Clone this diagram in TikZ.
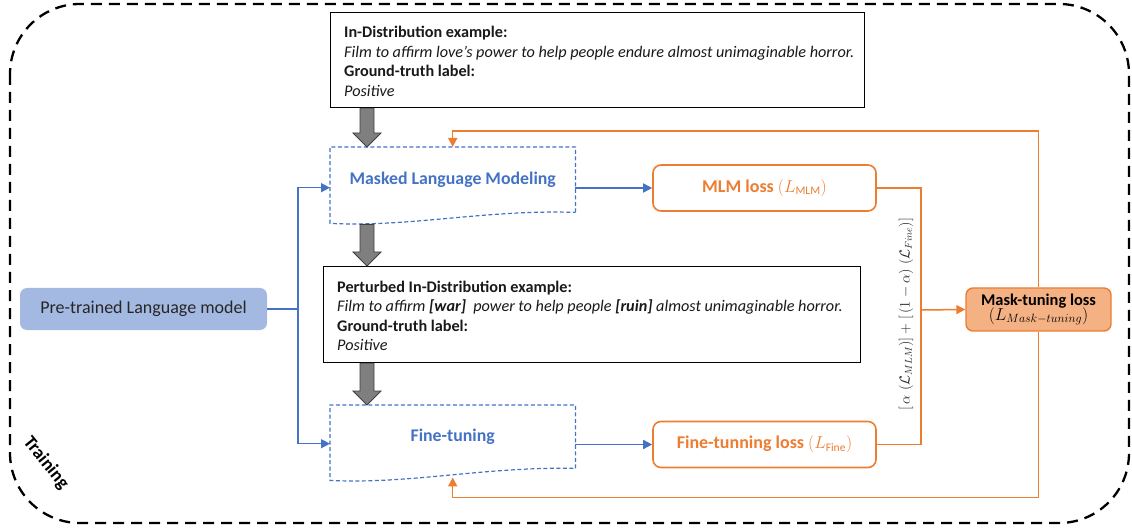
\documentclass[tikz,border=0pt]{standalone}
\usepackage{fontspec}
\setmainfont{Carlito}
\usetikzlibrary{calc,arrows.meta}
\definecolor{oblue}{HTML}{4472C4}
\definecolor{oorange}{HTML}{ED7D31}
\definecolor{lblue}{HTML}{A4B9E1}
\definecolor{lorange}{HTML}{F4B183}
\definecolor{gfillc}{HTML}{7F7F7F}
\definecolor{gdrawc}{HTML}{3F3F3F}
\newcommand\blockarrow[2]{%
  \filldraw[gblock] ($(#1)+(-7,0)$) -- ($(#2)+(-7,-14)$) -- ($(#2)+(-14,-14)$) -- (#2)
    -- ($(#2)+(14,-14)$) -- ($(#2)+(7,-14)$) -- ($(#1)+(7,0)$) -- cycle;}
\begin{document}
\begin{tikzpicture}[x=1pt,y=-1pt,
  exbox/.style={draw=black,line width=1.3,fill=white,inner sep=0,anchor=north west},
  extext/.style={anchor=west,align=left,inner sep=0,font=\fontsize{16.2}{19.5}\selectfont,text=black!90},
  docnode/.style={inner sep=0,anchor=north west,text=oblue,font=\fontsize{17.8}{20}\selectfont\bfseries},
  docline/.style={draw=oblue,line width=1.2,dash pattern=on 4 off 2.5},
  lossbox/.style={draw=oorange,line width=1.6,rounded corners=8,fill=white,text=oorange,
    minimum width=223,minimum height=46,font=\fontsize{18}{21}\selectfont},
  bline/.style={draw=oblue,line width=1.5},
  barrow/.style={bline,-{Triangle[length=9pt,width=9pt]}},
  oline/.style={draw=oorange,line width=1.5},
  oarrow/.style={oline,-{Triangle[length=9pt,width=9pt]}},
  gblock/.style={fill=gfillc,draw=gdrawc,line width=0.8},
]
\useasboundingbox (0,0) rectangle (1132,529);
% outer training frame
\draw[black,line width=2.3,dash pattern=on 11 off 7,rounded corners=70] (10,4) rectangle (1129,523);
\node[rotate=-51,font=\fontsize{18.5}{20}\selectfont\bfseries] (train) at (46,463) {Training};

% example boxes
\node[exbox,minimum width=534,minimum height=95] (ex1) at (330,12) {};
\node[extext] (ex1t) at ($(ex1.west)+(14,1)$) {\textbf{In-Distribution example:}\\
  \textit{Film to affirm love’s power to help people endure almost unimaginable horror.}\\
  \textbf{Ground-truth label:}\\
  \textit{Positive}};
\node[exbox,minimum width=537,minimum height=96] (ex2) at (323,266) {};
\node[extext] (ex2t) at ($(ex2.west)+(14,1)$) {\textbf{Perturbed In-Distribution example:}\\
  \textit{Film to affirm \textbf{[war]}\ \ power to help people \textbf{[ruin]} almost unimaginable horror.}\\
  \textbf{Ground-truth label:}\\
  \textit{Positive}};

% document shapes
\node[docnode,minimum width=245,minimum height=65] (mlm) at (330,147) {Masked Language Modeling};
\draw[docline] (mlm.south east) -- (mlm.north east) -- (mlm.north west) -- ($(mlm.south west)+(0,11)$)
  .. controls ($(mlm.south west)+(80,15)$) and ($(mlm.south east)+(-90,-3)$) .. (mlm.south east);
\node[docnode,minimum width=245,minimum height=63] (ft) at (330,405) {Fine-tuning};
\draw[docline] (ft.south east) -- (ft.north east) -- (ft.north west) -- ($(ft.south west)+(0,12)$)
  .. controls ($(ft.south west)+(80,16)$) and ($(ft.south east)+(-90,-2)$) .. (ft.south east);

% gray block arrows
\coordinate (ax) at (367,0);
\coordinate (a1s) at (ex1.south -| ax);
\coordinate (a1e) at (mlm.north -| ax);
\coordinate (a2s) at ($(mlm.south -| ax)+(0,12)$);
\coordinate (a2e) at (ex2.north -| ax);
\coordinate (a3s) at (ex2.south -| ax);
\coordinate (a3e) at (ft.north -| ax);
\blockarrow{a1s}{a1e}
\blockarrow{a2s}{a2e}
\blockarrow{a3s}{a3e}

% pre-trained model
\node[fill=lblue,rounded corners=7,minimum width=247,minimum height=42,inner sep=0,
  font=\fontsize{18}{20}\selectfont,text=black!85] (plm) at (143.5,309) {Pre-trained Language model};
\coordinate (fork) at (298,309);
\draw[bline] (plm.east) -- (fork);
\draw[barrow] (fork) |- ($(mlm.west)+(0,8)$);
\draw[barrow] (fork) |- ($(ft.west)+(0,7)$);

% loss boxes
\node[lossbox] (mlmloss) at (764.5,188) {\textbf{MLM loss} {\fontsize{16.5}{17}\selectfont$(L_{\mathrm{MLM}})$}};
\node[lossbox] (ftloss) at (764.5,444.5) {\textbf{Fine-tunning loss} {\fontsize{16.5}{17}\selectfont$(L_{\mathrm{Fine}})$}};
\draw[barrow] (mlm.east |- mlmloss.west) -- (mlmloss.west);
\draw[barrow] (ft.east |- ftloss.west) -- (ftloss.west);

% mask-tuning loss
\node[draw=oorange,line width=1.4,fill=lorange,rounded corners=7,minimum width=145,minimum height=43,
  inner sep=0,align=center,text=black] (mask) at (1038.5,309.5)
  {{\fontsize{16.4}{17}\selectfont\bfseries Mask-tuning loss}\\[-2pt]{\fontsize{18.5}{19}\selectfont$(L_{Mask-tuning})$}};

\coordinate (sx) at (921,310);
\draw[oline] (mlmloss.east) -| (sx) |- (ftloss.east);
\draw[oarrow] (sx) -- (mask.west);
\node[rotate=90,font=\fontsize{14.3}{16}\selectfont,text=black!85] (sumlbl) at (906,314)
  {$[\,\alpha\;(\mathcal{L}_{MLM})] + [\,(1-\alpha)\;(\mathcal{L}_{Fine})]$};

\draw[oarrow] (mask.north) |- ($(mlm.north)+(0,-16)$) -- (mlm.north);
\draw[oarrow] (mask.south) |- ($(ft.south)+(0,29)$) -- ($(ft.south)+(0,9)$);
\end{tikzpicture}
\end{document}
